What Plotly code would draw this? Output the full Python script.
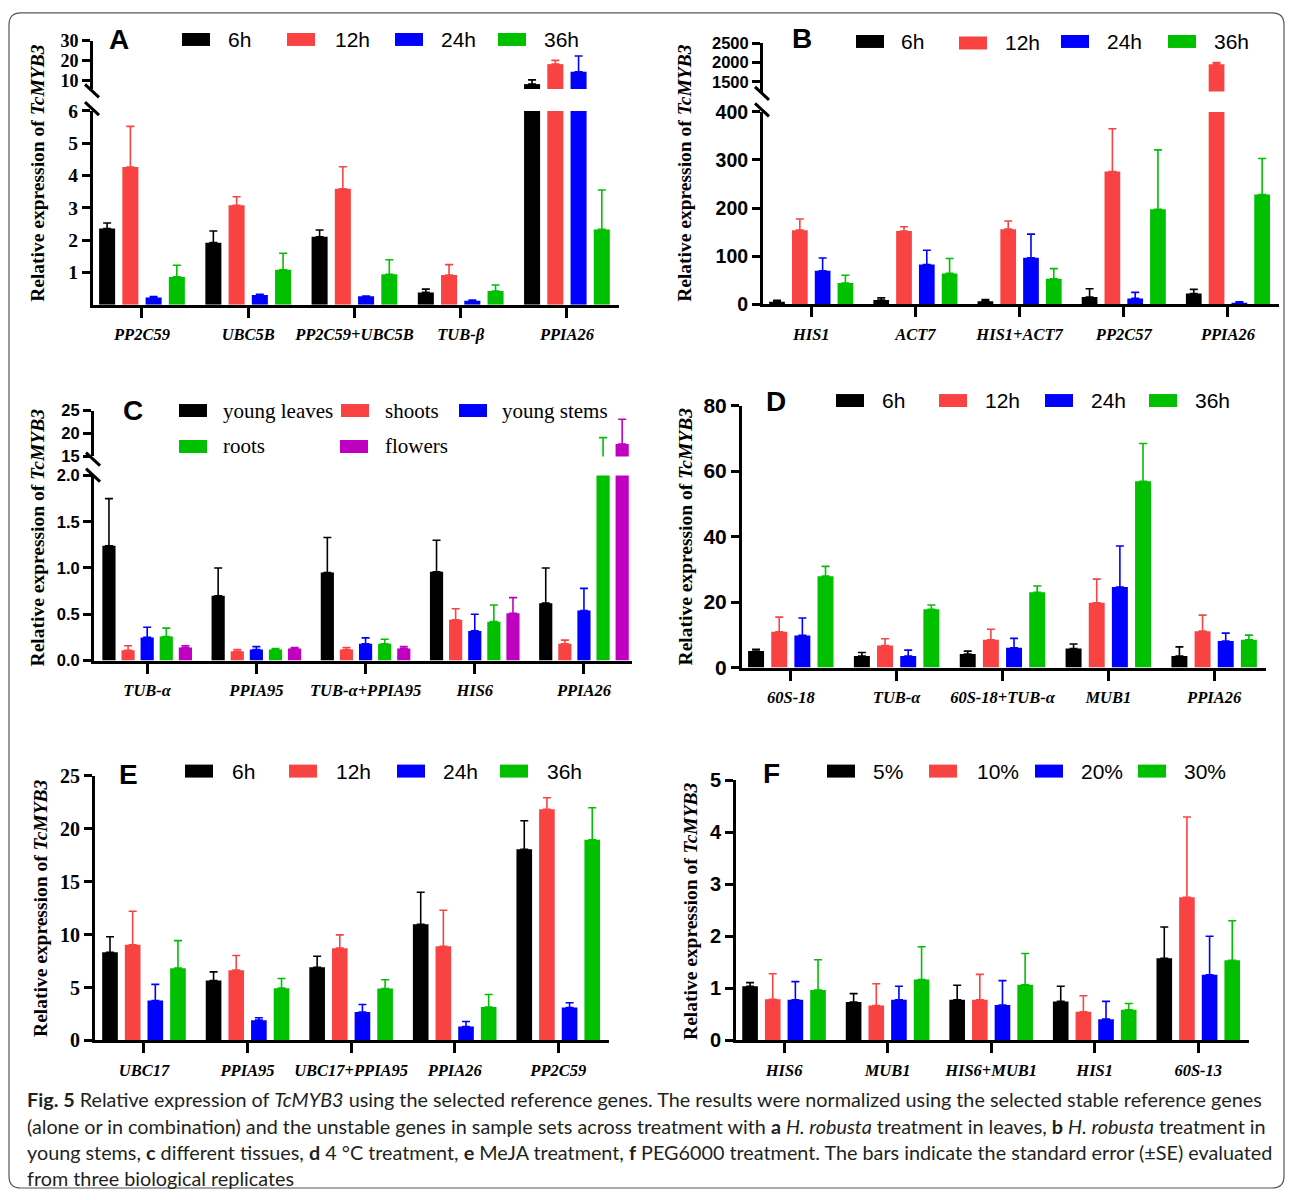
import plotly.graph_objects as go

W, H = 1292, 1200
# The returned picture places the page vertically inside ~[11, 1189];
# positions measured on the reference are mapped through this so they line up.
VY0, VS = 11.0, 0.982


def fx(p):
    return p / W


def fy(p):
    return 1 - ((p - VY0) / VS) / H


# ---------------- data ----------------
A_genes = ["PP2C59", "UBC5B", "PP2C59+UBC5B", "TUB-β", "PPIA26"]
A_groups = ["6h", "12h", "24h", "36h"]
A_6h = [2.36, 1.92, 2.10, 0.38, 8.4]
A_6h_se = [0.17, 0.36, 0.21, 0.10, 2.1]
A_12h = [4.26, 3.08, 3.59, 0.92, 18.4]
A_12h_se = [1.26, 0.26, 0.68, 0.32, 1.9]
A_24h = [0.22, 0.30, 0.26, 0.12, 14.6]
A_24h_se = [0.03, 0.02, 0.01, 0.02, 7.9]
A_36h = [0.86, 1.08, 0.94, 0.42, 2.33]
A_36h_se = [0.36, 0.51, 0.45, 0.19, 1.22]
A_ticks_low = [1, 2, 3, 4, 5, 6]
A_ticks_high = [10, 20, 30]

B_genes = ["HIS1", "ACT7", "HIS1+ACT7", "PP2C57", "PPIA26"]
B_groups = ["6h", "12h", "24h", "36h"]
B_6h = [5, 8.7, 6, 15, 22]
B_6h_se = [3, 4.3, 3.5, 17, 8.7]
B_12h = [154, 152, 156, 276, 1960]
B_12h_se = [23, 9, 17, 89, 40]
B_24h = [69.5, 82.6, 96.5, 12, 3]
B_24h_se = [26.5, 29.4, 49.1, 12.5, 2]
B_36h = [44, 64, 53, 197.5, 228]
B_36h_se = [16, 31, 21, 123.5, 75]
B_ticks_low = [0, 100, 200, 300, 400]
B_ticks_high = [1500, 2000, 2500]

C_genes = ["TUB-α", "PPIA95", "TUB-α+PPIA95", "HIS6", "PPIA26"]
C_groups = ["young leaves", "shoots", "young stems", "roots", "flowers"]
C_leaves = [1.24, 0.70, 0.95, 0.96, 0.62]
C_leaves_se = [0.51, 0.30, 0.38, 0.34, 0.38]
C_shoots = [0.11, 0.10, 0.12, 0.44, 0.18]
C_shoots_se = [0.05, 0.02, 0.02, 0.12, 0.04]
C_stems = [0.25, 0.12, 0.18, 0.32, 0.54]
C_stems_se = [0.11, 0.03, 0.065, 0.18, 0.24]
C_roots = [0.26, 0.12, 0.18, 0.42, 14.3]
C_roots_se = [0.09, 0.01, 0.05, 0.18, 4.8]
C_flowers = [0.14, 0.13, 0.13, 0.51, 17.7]
C_flowers_se = [0.02, 0.01, 0.02, 0.17, 5.4]
C_ticks_low = [0, 0.5, 1.0, 1.5, 2.0]
C_ticklabels_low = ["0.0", "0.5", "1.0", "1.5", "2.0"]
C_ticks_high = [15, 20, 25]

D_genes = ["60S-18", "TUB-α", "60S-18+TUB-α", "MUB1", "PPIA26"]
D_groups = ["6h", "12h", "24h", "36h"]
D_6h = [5.06, 3.5, 4.1, 5.8, 3.5]
D_6h_se = [0.54, 1.1, 0.9, 1.4, 2.8]
D_12h = [10.9, 6.7, 8.5, 19.8, 11.1]
D_12h_se = [4.5, 2.1, 3.2, 7.2, 4.9]
D_24h = [9.8, 3.5, 6.0, 24.6, 8.1]
D_24h_se = [5.3, 1.8, 2.9, 12.5, 2.4]
D_36h = [27.9, 17.8, 23.0, 56.9, 8.5]
D_36h_se = [3.0, 1.3, 1.9, 11.5, 1.4]
D_ticks = [0, 20, 40, 60, 80]

E_genes = ["UBC17", "PPIA95", "UBC17+PPIA95", "PPIA26", "PP2C59"]
E_groups = ["6h", "12h", "24h", "36h"]
E_6h = [8.34, 5.66, 6.92, 10.98, 18.06]
E_6h_se = [1.46, 0.82, 1.04, 3.02, 2.69]
E_12h = [9.03, 6.64, 8.72, 8.9, 21.83]
E_12h_se = [3.17, 1.38, 1.25, 3.4, 1.09]
E_24h = [3.77, 1.92, 2.68, 1.32, 3.11]
E_24h_se = [1.53, 0.22, 0.72, 0.47, 0.45]
E_36h = [6.83, 4.94, 4.9, 3.15, 18.96]
E_36h_se = [2.6, 0.91, 0.83, 1.19, 3.02]
E_ticks = [0, 5, 10, 15, 20, 25]

F_genes = ["HIS6", "MUB1", "HIS6+MUB1", "HIS1", "60S-13"]
F_groups = ["5%", "10%", "20%", "30%"]
F_5 = [1.04, 0.74, 0.78, 0.75, 1.58]
F_5_se = [0.07, 0.16, 0.28, 0.29, 0.60]
F_10 = [0.79, 0.67, 0.78, 0.55, 2.75]
F_10_se = [0.49, 0.42, 0.49, 0.31, 1.54]
F_20 = [0.78, 0.78, 0.68, 0.41, 1.26]
F_20_se = [0.35, 0.26, 0.47, 0.34, 0.74]
F_30 = [0.97, 1.17, 1.07, 0.59, 1.54]
F_30_se = [0.58, 0.63, 0.60, 0.12, 0.76]
F_ticks = [0, 1, 2, 3, 4, 5]

Y_TITLE = "<b>Relative expression of <i>TcMYB3</i></b>"

CAPTION = [
    "<b>Fig. 5</b> Relative expression of <i>TcMYB3</i> using the selected reference genes. "
    "The results were normalized using the selected stable reference genes",
    "(alone or in combination) and the unstable genes in sample sets across treatment with "
    "<b>a</b> <i>H. robusta</i> treatment in leaves, <b>b</b> <i>H. robusta</i> treatment in",
    "young stems, <b>c</b> different tissues, <b>d</b> 4 °C treatment, <b>e</b> MeJA treatment, "
    "<b>f</b> PEG6000 treatment. The bars indicate the standard error (±SE) evaluated",
    "from three biological replicates",
]

# ---------------- style / layout ----------------
BLACK, RED, BLUE, GREEN, MAG = "#000000", "#f94343", "#0000ff", "#00c000", "#c000c0"
C4 = [BLACK, RED, BLUE, GREEN]
C5 = [BLACK, RED, BLUE, GREEN, MAG]
SANS = "Liberation Sans"
SERIF = "Liberation Serif"

# segs: (bottom px, top px, value range, tick values, tick texts, tick font size)
panels = [
    dict(letter="A", letter_xy=(119, 39), cats=A_genes, groups=A_groups,
         series=[A_6h, A_12h, A_24h, A_36h], errors=[A_6h_se, A_12h_se, A_24h_se, A_36h_se],
         colors=C4, x0=93, x1=619, xr=[-0.461, 4.49],
         segs=[(304, 110, [0, 6], A_ticks_low, None, 19.5), (88, 40, [6, 30], A_ticks_high, None, 18)],
         tfont=SERIF, breaks=[90, 107.7], title_xy=(38, 172),
         lfont=SANS, leg=[(182, 226, 38.5), (287, 333, 38.5), (395, 439, 38.5), (498, 542, 38.5)]),
    dict(letter="B", letter_xy=(802, 38), cats=B_genes, groups=B_groups,
         series=[B_6h, B_12h, B_24h, B_36h], errors=[B_6h_se, B_12h_se, B_24h_se, B_36h_se],
         colors=C4, x0=763, x1=1279, xr=[-0.463, 4.49],
         segs=[(303.5, 111, [0, 400], B_ticks_low, None, 19.5),
               (90.7, 42.3, [1250, 2500], B_ticks_high, None, 16.5)],
         tfont=SANS, breaks=[92.5, 109], title_xy=(685, 172),
         lfont=SANS, leg=[(856, 899, 40.5), (959, 1003, 42), (1061, 1105, 40.5), (1168, 1212, 40.5)]),
    dict(letter="C", letter_xy=(132.5, 410), cats=C_genes, groups=C_groups,
         series=[C_leaves, C_shoots, C_stems, C_roots, C_flowers],
         errors=[C_leaves_se, C_shoots_se, C_stems_se, C_roots_se, C_flowers_se],
         colors=C5, x0=94, x1=632, xr=[-0.487, 4.44],
         segs=[(660.3, 475, [0, 2], C_ticks_low, C_ticklabels_low, 16.5),
               (456, 410, [15, 25], C_ticks_high, None, 16.5)],
         tfont=SANS, breaks=[458.7, 474.7], title_xy=(37, 537),
         lfont=SERIF, leg=[(179, 221, 410), (341, 383, 410), (459, 500, 410), (179, 221, 446), (340, 383, 446)]),
    dict(letter="D", letter_xy=(776, 401), cats=D_genes, groups=D_groups,
         series=[D_6h, D_12h, D_24h, D_36h], errors=[D_6h_se, D_12h_se, D_24h_se, D_36h_se],
         colors=C4, x0=742, x1=1266, xr=[-0.461, 4.49],
         segs=[(667.3, 405, [0, 80], D_ticks, None, 21)],
         tfont=SANS, breaks=[], title_xy=(685, 536),
         lfont=SANS, leg=[(836, 880, 400), (939, 983, 400), (1045, 1089, 400), (1149, 1193, 400)]),
    dict(letter="E", letter_xy=(128, 774), cats=E_genes, groups=E_groups,
         series=[E_6h, E_12h, E_24h, E_36h], errors=[E_6h_se, E_12h_se, E_24h_se, E_36h_se],
         colors=C4, x0=95, x1=609, xr=[-0.473, 4.49],
         segs=[(1040.7, 775.7, [0, 25], E_ticks, None, 20)],
         tfont=SERIF, breaks=[], title_xy=(41, 908),
         lfont=SANS, leg=[(185, 230, 771), (289, 334, 771), (397, 441, 771), (500, 545, 771)]),
    dict(letter="F", letter_xy=(771, 773.5), cats=F_genes, groups=F_groups,
         series=[F_5, F_10, F_20, F_30], errors=[F_5_se, F_10_se, F_20_se, F_30_se],
         colors=C4, x0=736, x1=1249, xr=[-0.464, 4.49],
         segs=[(1040.7, 780, [0, 5], F_ticks, None, 20)],
         tfont=SANS, breaks=[], title_xy=(691, 911),
         lfont=SANS, leg=[(827, 871, 771), (929, 975, 771), (1035, 1079, 771), (1138, 1182, 771)]),
]

fig = go.Figure()
layout = {}
shapes = []
annotations = []

k = 0
for p in panels:
    n = len(p["cats"])
    for j, (bot, top, rng, tv, tt, tsz) in enumerate(p["segs"]):
        k += 1
        xid = "x" if k == 1 else f"x{k}"
        yid = "y" if k == 1 else f"y{k}"
        xkey = "xaxis" if k == 1 else f"xaxis{k}"
        ykey = "yaxis" if k == 1 else f"yaxis{k}"
        xa = dict(domain=[fx(p["x0"]), fx(p["x1"])], range=p["xr"], type="category",
                  categoryorder="array", categoryarray=p["cats"], anchor=yid,
                  showgrid=False, zeroline=False, fixedrange=True)
        if j == 0:
            xa.update(showline=True, linecolor="black", linewidth=3, ticks="outside",
                      ticklen=10, tickwidth=3, tickcolor="black",
                      tickfont=dict(family=SERIF, size=16.5, color="black", weight="bold", style="italic"),
                      ticklabelstandoff=3)
        else:
            xa.update(visible=False)
        layout[xkey] = xa
        layout[ykey] = dict(domain=[fy(bot), fy(top)], range=rng, anchor=xid,
                            tickmode="array", tickvals=tv,
                            ticktext=tt if tt else [str(v) for v in tv],
                            ticks="outside", ticklen=8, tickwidth=3, tickcolor="black",
                            showline=True, linewidth=3, linecolor="black",
                            showgrid=False, zeroline=False, fixedrange=True,
                            tickfont=dict(family=p["tfont"], size=tsz, color="black", weight="bold"))
        for i, (vals, se) in enumerate(zip(p["series"], p["errors"])):
            if j == 0:
                yv = list(vals)
            else:
                # on the upper (broken) segment only bars reaching that segment are shown
                yv = [v if v + e > rng[0] else None for v, e in zip(vals, se)]
            fig.add_trace(go.Bar(
                x=p["cats"], y=yv, xaxis=xid, yaxis=yid, name=p["groups"][i],
                showlegend=False,
                marker=dict(color=p["colors"][i], line=dict(width=0)),
                error_y=dict(type="data", symmetric=False, array=se, arrayminus=[0] * n,
                             color=p["colors"][i], thickness=1.6, width=4),
            ))

    # axis break marks
    for yc in p["breaks"]:
        ax = p["x0"] - 1
        shapes.append(dict(type="line", xref="paper", yref="paper",
                           x0=fx(ax - 7), y0=fy(yc - 6.5), x1=fx(ax + 7), y1=fy(yc + 6.5),
                           line=dict(color="black", width=3)))

    # panel letter
    lx, ly = p["letter_xy"]
    annotations.append(dict(text=f"<b>{p['letter']}</b>", x=fx(lx), y=fy(ly), xref="paper", yref="paper",
                            xanchor="center", yanchor="middle", showarrow=False,
                            font=dict(family=SANS, size=28, color="black")))

    # y-axis title
    tx, ty = p["title_xy"]
    annotations.append(dict(text=Y_TITLE, x=fx(tx), y=fy(ty), xref="paper", yref="paper",
                            xanchor="center", yanchor="middle", showarrow=False, textangle=-90,
                            font=dict(family=SERIF, size=19.5, color="black")))

    # legend (swatch + label)
    for i, (sx, txx, yy) in enumerate(p["leg"]):
        shapes.append(dict(type="rect", xref="paper", yref="paper",
                           x0=fx(sx), x1=fx(sx + 28), y0=fy(yy - 6.5), y1=fy(yy + 6.5),
                           fillcolor=p["colors"][i], line=dict(width=0)))
        annotations.append(dict(text=p["groups"][i], x=fx(txx), y=fy(yy), xref="paper", yref="paper",
                                xanchor="left", yanchor="middle", showarrow=False,
                                font=dict(family=p["lfont"], size=21, color="black")))

# caption
for i, line in enumerate(CAPTION):
    annotations.append(dict(text=line, x=fx(25), y=fy(1099.5 + 26.4 * i), xref="paper", yref="paper",
                            xanchor="left", yanchor="middle", showarrow=False,
                            font=dict(family="Lato", size=19.8, color="#231f20")))

# rounded border around the figure (kept inside the page)
bx0, bx1, r = 9, 1284, 12
by0, by1 = 0.9 / H, 1 - 1.0 / H  # paper fractions (top edge, bottom edge)
ry = r / H
path = (f"M {fx(bx0 + r)},{1 - by0} L {fx(bx1 - r)},{1 - by0} "
        f"Q {fx(bx1)},{1 - by0} {fx(bx1)},{1 - by0 - ry} L {fx(bx1)},{1 - by1 + ry} "
        f"Q {fx(bx1)},{1 - by1} {fx(bx1 - r)},{1 - by1} L {fx(bx0 + r)},{1 - by1} "
        f"Q {fx(bx0)},{1 - by1} {fx(bx0)},{1 - by1 + ry} L {fx(bx0)},{1 - by0 - ry} "
        f"Q {fx(bx0)},{1 - by0} {fx(bx0 + r)},{1 - by0} Z")
shapes.append(dict(type="path", xref="paper", yref="paper", path=path,
                   line=dict(color="#555555", width=1.2)))

fig.update_layout(
    width=W, height=H, margin=dict(l=0, r=0, t=0, b=0),
    paper_bgcolor="white", plot_bgcolor="white",
    barmode="group", bargap=0.125, bargroupgap=0.31,
    showlegend=False, shapes=shapes, annotations=annotations,
    **layout,
)

fig.write_html("out.html")
